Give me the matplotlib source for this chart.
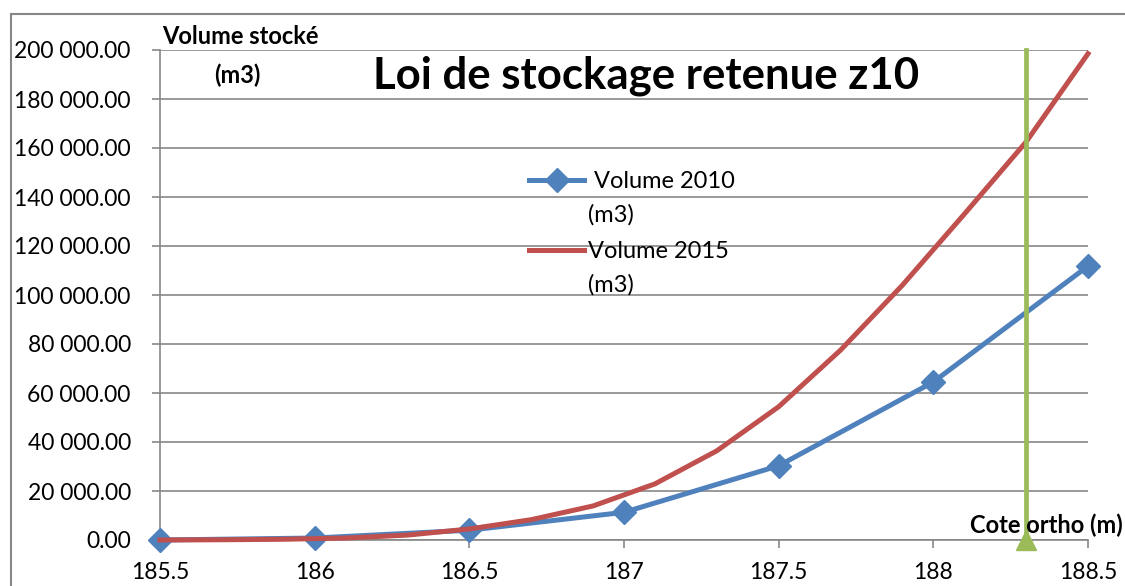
import matplotlib.pyplot as plt
import matplotlib.patches as patches

plt.rcParams['font.family'] = ['Lato', 'DejaVu Sans']

# cote (m) / volume (m3)
cote_2010 = [185.5, 186.0, 186.5, 187.0, 187.5, 188.0, 188.5]
vol_2010 = [0, 800, 4000, 11300, 30300, 64500, 111800]

cote_2015 = [185.5, 185.7, 185.9, 186.1, 186.3, 186.5, 186.7, 186.9,
             187.1, 187.3, 187.5, 187.7, 187.9, 188.1, 188.3, 188.5]
vol_2015 = [0, 100, 300, 800, 2000, 4500, 8300, 13900,
            22900, 36400, 54400, 77500, 104000, 133000, 162500, 198500]

cote_retenue = 188.3
x_ticks = [185.5, 186, 186.5, 187, 187.5, 188, 188.5]
x_labels = ["185.5", "186", "186.5", "187", "187.5", "188", "188.5"]
y_ticks = list(range(0, 200001, 20000))

blue = "#4F81BD"
red = "#C0504D"
green = "#9BBB59"
grey = "#878787"

fig = plt.figure(figsize=(11.25, 5.86), dpi=100)
ax = fig.add_axes([160 / 1125, 1 - 540 / 586, 928 / 1125, 490 / 586])

ax.plot(cote_2010, vol_2010, color=blue, lw=3.6, marker="D", ms=12,
        clip_on=False, zorder=4, label=" Volume 2010")
ax.plot(cote_2015, vol_2015, color=red, lw=3.6, clip_on=False, zorder=5,
        label="Volume 2015")
ax.plot([cote_retenue, cote_retenue], [0, 200000], color=green, lw=3.4,
        marker="^", ms=15, markevery=[0], clip_on=False, zorder=6)

ax.set_xlim(185.5, 188.5)
ax.set_ylim(0, 200000)
ax.set_xticks(x_ticks)
ax.set_xticklabels(x_labels)
ax.set_yticks(y_ticks)
ax.set_yticklabels([f"{v:,.2f}".replace(",", " ") for v in y_ticks])
ax.tick_params(axis="both", labelsize=16.5, color=grey, length=6, width=1.2)
ax.tick_params(axis="y", pad=15)
ax.tick_params(axis="x", pad=10)
ax.grid(axis="y", color=grey, lw=1.2)
ax.set_axisbelow(True)
for s in ["top", "right"]:
    ax.spines[s].set_visible(False)
for s in ["left", "bottom"]:
    ax.spines[s].set_color(grey)
    ax.spines[s].set_linewidth(1.2)

leg = ax.legend(loc="center left", bbox_to_anchor=(0.3976, 0.66),
                frameon=False, fontsize=17, handlelength=2.35,
                handletextpad=0.13, labelspacing=2.1, borderpad=0,
                borderaxespad=0)
ax.text(0.461, 0.663, "(m3)", transform=ax.transAxes, fontsize=17,
        va="center", ha="left")
ax.text(0.461, 0.52, "(m3)", transform=ax.transAxes, fontsize=17,
        va="center", ha="left")

fig.text(646 / 1125, 1 - 76 / 586, "Loi de stockage retenue z10",
         fontsize=31.5, fontweight="bold", ha="center", va="center")
fig.text(240 / 1125, 1 - 37 / 586, "Volume stocké", fontsize=17,
         fontweight="bold", ha="center", va="center")
fig.text(237 / 1125, 1 - 75 / 586, "(m3)", fontsize=17,
         fontweight="bold", ha="center", va="center")
fig.text(1123 / 1125, 1 - 525 / 586, "Cote ortho (m)", fontsize=17,
         fontweight="bold", ha="right", va="center")

border = patches.Rectangle((11 / 1125, -0.1), 1.2, 1.1 - 14 / 586,
                           transform=fig.transFigure, fill=False,
                           edgecolor=grey, lw=1.5)
fig.patches.append(border)

fig.savefig("out.png", dpi=100)
